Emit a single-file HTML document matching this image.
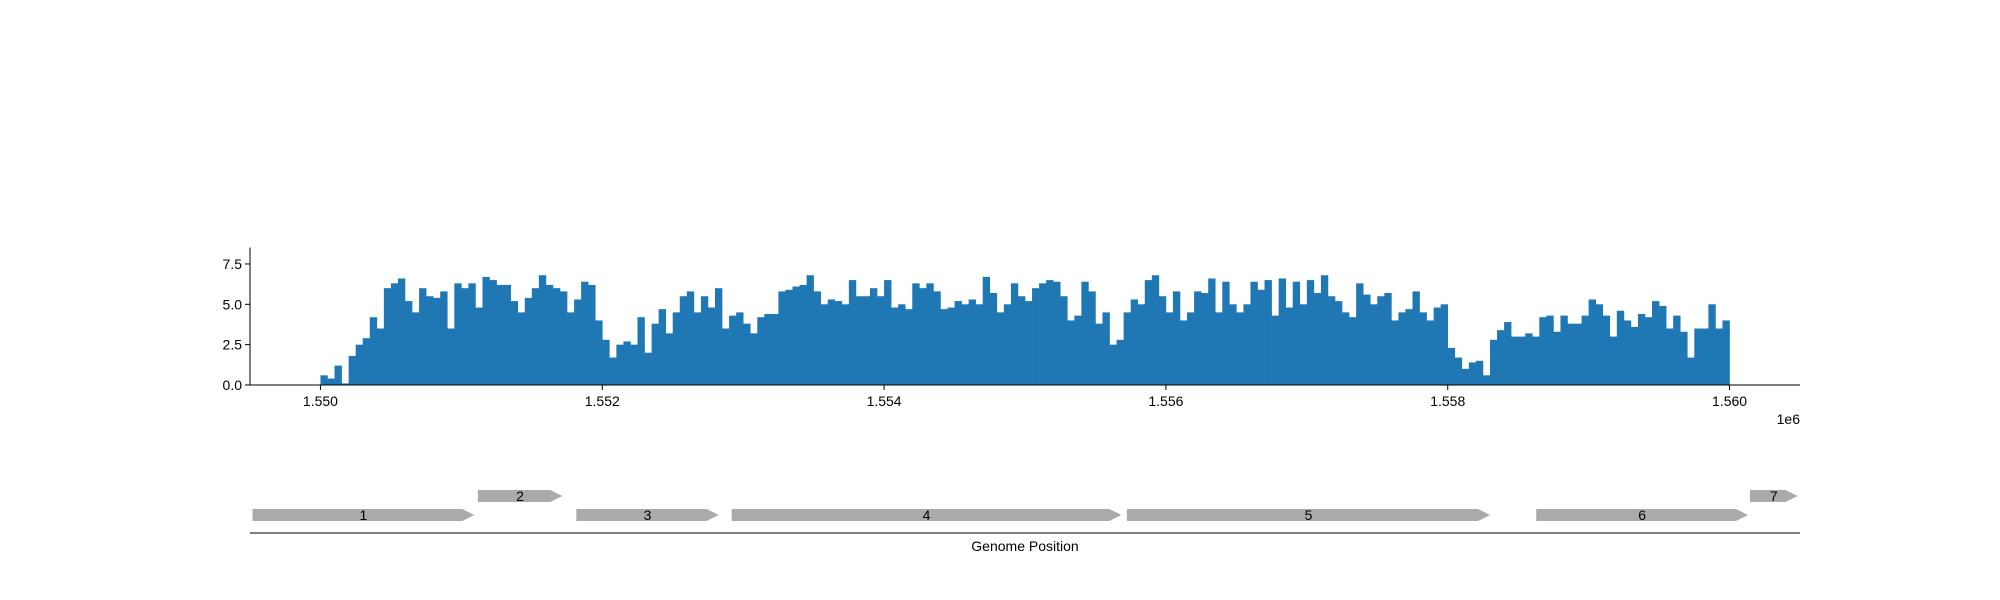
<!DOCTYPE html>
<html><head><meta charset="utf-8"><style>
body{margin:0;background:#fff;}
svg{display:block;font-family:"Liberation Sans",sans-serif;}
</style></head><body>
<svg id="chart" width="2000" height="600" xmlns="http://www.w3.org/2000/svg"></svg>
<script>
const binStart = 1550000;
const binSize = 50;
const coverage = [0.6,0.4,1.2,0.1,1.8,2.5,2.9,4.2,3.5,6.0,6.3,6.6,5.2,4.5,6.0,5.5,5.4,5.8,3.5,6.3,
6.0,6.3,4.8,6.7,6.5,6.2,6.2,5.2,4.5,5.4,6.0,6.8,6.2,6.0,5.8,4.5,5.3,6.4,6.2,4.0,
2.8,1.7,2.5,2.7,2.5,4.2,2.0,3.8,4.7,3.2,4.5,5.5,5.8,4.5,5.5,4.8,6.0,3.5,4.3,4.5,
3.8,3.2,4.2,4.4,4.4,5.8,5.9,6.1,6.2,6.8,5.8,5.0,5.3,5.2,5.0,6.5,5.5,5.5,6.0,5.5,
6.5,4.8,5.0,4.7,6.3,6.0,6.3,5.8,4.7,4.8,5.2,5.0,5.3,5.0,6.7,5.7,4.5,5.0,6.3,5.5,
5.2,6.0,6.3,6.5,6.4,5.5,4.0,4.3,6.4,5.8,3.8,4.5,2.5,2.8,4.5,5.3,5.0,6.5,6.8,5.5,
4.5,5.8,4.0,4.5,5.8,5.7,6.6,4.5,6.4,5.0,4.5,5.0,6.4,5.9,6.5,4.3,6.6,4.8,6.4,5.0,
6.5,5.7,6.8,5.5,5.2,4.5,4.2,6.3,5.6,5.0,5.5,5.7,4.0,4.5,4.7,5.8,4.5,4.0,4.8,5.0,
2.3,1.7,1.0,1.4,1.5,0.6,2.8,3.4,3.9,3.0,3.0,3.2,3.0,4.2,4.3,3.3,4.3,3.8,3.8,4.3,
5.3,5.0,4.3,3.0,4.6,4.0,3.6,4.4,4.2,5.2,4.9,3.5,4.3,3.3,1.7,3.5,3.5,5.0,3.5,4.0];
const xTicks = [1550000,1552000,1554000,1556000,1558000,1560000];
const xTickLabels = ["1.550","1.552","1.554","1.556","1.558","1.560"];
const yTicks = [0,2.5,5,7.5];
const yTickLabels = ["0.0","2.5","5.0","7.5"];
const geneNames = ["1","2","3","4","5","6","7"];
const geneStarts = [1549518,1551117,1551816,1552918,1555723,1558628,1560145];
const geneEnds = [1551092,1551716,1552826,1555684,1558301,1560131,1560482];
const geneLanes = [0,1,0,0,0,0,1];

const NS="http://www.w3.org/2000/svg";
const svg=document.getElementById('chart');
const L=250,R=1800,T=247.5,B=385;
const xMin=1549500,xMax=1560500,yMax=8.52;
const X=v=>L+(v-xMin)/(xMax-xMin)*(R-L);
const Y=v=>B-v/yMax*(B-T);
function el(t,a,p){const e=document.createElementNS(NS,t);for(const k in a)e.setAttribute(k,a[k]);(p||svg).appendChild(e);return e;}

const bars=el('g',{fill:'#1f77b4'});


coverage.forEach((v,i)=>{
  const x0=X(binStart+i*binSize),x1=X(binStart+(i+1)*binSize);
  const r=el('rect',{x:x0,y:Y(v),width:x1-x0+0.3,height:B-Y(v)},bars);
  
  
});
// spines
const ya=el('line',{x1:L,y1:T,x2:L,y2:B,stroke:'#000','stroke-width':1});


const xa=el('line',{x1:L,y1:B,x2:R,y2:B,stroke:'#000','stroke-width':1});


yTicks.forEach((v,i)=>{
  el('line',{x1:L-5,y1:Y(v),x2:L,y2:Y(v),stroke:'#000'});
  const t=el('text',{x:L-8,y:Y(v)+5,'text-anchor':'end','font-size':14});
  t.textContent=yTickLabels[i];
  
  
});
xTicks.forEach((v,i)=>{
  el('line',{x1:X(v),y1:B,x2:X(v),y2:B+5,stroke:'#000'});
  const t=el('text',{x:X(v),y:B+21,'text-anchor':'middle','font-size':14});
  t.textContent=xTickLabels[i];
  
  
});
const off=el('text',{x:R,y:424,'text-anchor':'end','font-size':14});
off.textContent='1e6';



// gene track
const laneY=[515,496],h=12,head=12;
geneNames.forEach((n,i)=>{
  const x0=X(geneStarts[i]),x1=X(geneEnds[i]),cy=laneY[geneLanes[i]];
  const hx=Math.max(x0,x1-head);
  const g=el('g',{});
  
  
  el('polygon',{points:`${x0},${cy-h/2} ${hx},${cy-h/2} ${x1},${cy} ${hx},${cy+h/2} ${x0},${cy+h/2}`,fill:'#aaaaaa'},g);
  const t=el('text',{x:(x0+x1)/2,y:cy+5,'text-anchor':'middle','font-size':14},g);
  t.textContent=n;
});
const ga=el('line',{x1:L,y1:533,x2:R,y2:533,stroke:'#000'});


const gt=el('text',{x:(L+R)/2,y:551,'text-anchor':'middle','font-size':14});
gt.textContent='Genome Position';


</script>
</body></html>
